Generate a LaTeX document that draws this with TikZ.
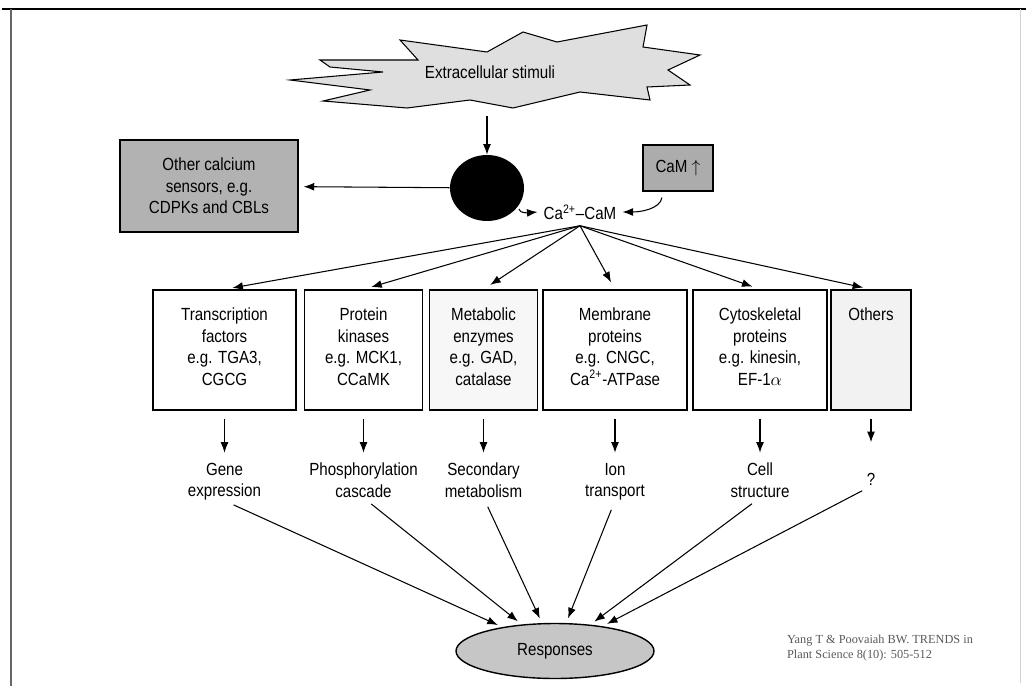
\documentclass[tikz,border=0pt]{standalone}
\usepackage{fontspec}
\setmainfont{Liberation Sans}[FakeStretch=0.86]
\newfontfamily\citefont{Liberation Serif}
\usetikzlibrary{positioning,shapes.geometric,arrows.meta}

\begin{document}
\begin{tikzpicture}[x=0.02cm, y=0.02cm, font=\fontsize{10}{12.2}\selectfont,
  catbox/.style={draw, thick, minimum height=2.4cm},
  cattext/.style={align=center, inner sep=0pt},
  effect/.style={align=center, inner sep=0pt},
  arr/.style={-{Latex[length=6pt,width=4.5pt]}, semithick}]

\useasboundingbox (0,0) rectangle (1026,-686);

\draw[thick] (2,-9) -- (1026,-9);
\draw[thick, gray!80!black] (11,-9) -- (11,-686);
\draw[gray!35] (1020,-9) -- (1020,-683);

\draw[semithick, fill=gray!25] (320,-60) -- (418,-60) -- (400,-40) -- (487,-52) -- (523,-32) -- (557,-42)
  -- (647,-25) -- (643,-47) -- (700,-55) -- (668,-70) -- (690,-85) -- (647,-87) -- (650,-100)
  -- (580,-92) -- (513,-108) -- (470,-100) -- (407,-108) -- (323,-101) -- (370,-90)
  -- (290,-80) -- (383,-72) -- (330,-67) -- cycle;
\node (stimuli) at (490,-72) {Extracellular stimuli};
\coordinate (stimbase) at (487,-116);

\node[ellipse, fill=black, minimum width=1.48cm, minimum height=1.32cm] (cam) at (487,-188) {};
\node[draw, thick, fill=gray!60, minimum width=3.56cm, minimum height=1.84cm, align=center] (sensors) at (209,-186) {Other calcium\\sensors, e.g.\\CDPKs and CBLs};
\node[draw, thick, fill=gray!65, minimum width=1.4cm, minimum height=0.92cm] (camup) at (678,-168) {CaM $\uparrow$};
\node (cacam) at (580,-212) {Ca\textsuperscript{2+}--CaM};

\draw[arr] (stimbase) -- (cam);
\draw[arr, shorten >=0.1cm] (cam) -- (sensors);
\draw[arr, shorten <=0.06cm] (cam.-30) to[out=-80, in=185] (cacam.west);
\draw[arr, shorten <=0.12cm] ([xshift=-0.3cm]camup.south) to[out=-100, in=0] (cacam.east);

\node[catbox, minimum width=2.86cm] (tfbox) at (224.5,-350) {};
\node[catbox, minimum width=2.36cm] (pkbox) at (363.5,-350) {};
\node[catbox, minimum width=2.16cm, fill=gray!6] (mebox) at (483.5,-350) {};
\node[catbox, minimum width=2.88cm] (mpbox) at (615,-350) {};
\node[catbox, minimum width=2.68cm] (csbox) at (760,-350) {};
\node[catbox, minimum width=1.6cm, fill=gray!10] (otbox) at (871,-350) {};

\node[cattext, below=0.37cm of tfbox.north] (tftext) {Transcription\\factors\\e.g. TGA3,\\CGCG};
\node[cattext, below=0.37cm of pkbox.north] (pktext) {Protein\\kinases\\e.g. MCK1,\\CCaMK};
\node[cattext, below=0.37cm of mebox.north] (metext) {Metabolic\\enzymes\\e.g. GAD,\\catalase};
\node[cattext, below=0.37cm of mpbox.north] (mptext) {Membrane\\proteins\\e.g. CNGC,\\Ca\textsuperscript{2+}-ATPase};
\node[cattext, below=0.37cm of csbox.north] (cstext) {Cytoskeletal\\proteins\\e.g. kinesin,\\EF-1$\alpha$};
\node[cattext, below=0.37cm of otbox.north] (ottext) {Others};

\foreach \b in {tfbox,pkbox,mebox,mpbox,csbox,otbox}
  \draw[arr, shorten >=0.16cm] (cacam.south) -- (\b.north);

\node[effect, below=1.04cm of tfbox] (gene) {Gene\\expression};
\node[effect, below=1.04cm of pkbox] (phos) {Phosphorylation\\cascade};
\node[effect, below=1.04cm of mebox] (secm) {Secondary\\metabolism};
\node[effect, below=1.04cm of mpbox] (iont) {Ion\\transport};
\node[effect, below=1.04cm of csbox] (cell) {Cell\\structure};
\node[effect, below=1.25cm of otbox] (unk) {?};

\draw[arr, shorten <=0.16cm, shorten >=0.2cm] (tfbox) -- (gene);
\draw[arr, shorten <=0.16cm, shorten >=0.2cm] (pkbox) -- (phos);
\draw[arr, shorten <=0.16cm, shorten >=0.2cm] (mebox) -- (secm);
\draw[arr, shorten <=0.16cm, shorten >=0.2cm] (mpbox) -- (iont);
\draw[arr, shorten <=0.16cm, shorten >=0.2cm] (csbox) -- (cell);
\draw[arr, shorten <=0.16cm, shorten >=0.62cm] (otbox) -- (unk);

\node[ellipse, draw, thick, fill=gray!45, minimum width=3.96cm, minimum height=1.1cm] (resp) at (555,-651) {Responses};

\foreach \e in {gene,phos,secm,iont,cell,unk}
  \draw[arr, shorten <=0.2cm, shorten >=0.1cm] (\e.south) -- (resp);

\node[font=\citefont\fontsize{7}{9}\selectfont, text=gray!70!black, align=left] (cite) at (880,-648) {Yang T \& Poovaiah BW. TRENDS in\\Plant Science 8(10): 505-512};

\end{tikzpicture}
\end{document}
